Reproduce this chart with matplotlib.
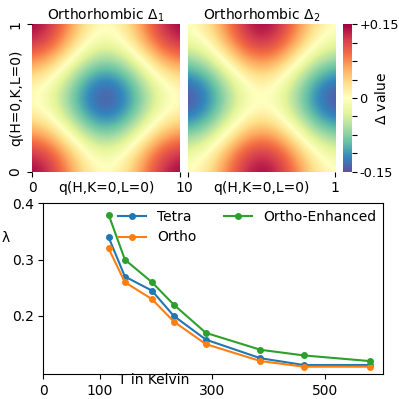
import numpy as np
import matplotlib
matplotlib.use("Agg")
from matplotlib import pyplot as plt

# heatmap samples on a 9x9 grid, q from 0 to 1 (rows = K, cols = H)
q_grid = [0, 0.125, 0.25, 0.375, 0.5, 0.625, 0.75, 0.875, 1]
delta1 = [
    [0.150, 0.128, 0.075, 0.022, 0.000, 0.022, 0.075, 0.128, 0.150],
    [0.128, 0.106, 0.053, 0.000, -0.022, 0.000, 0.053, 0.106, 0.128],
    [0.075, 0.053, 0.000, -0.053, -0.075, -0.053, 0.000, 0.053, 0.075],
    [0.022, 0.000, -0.053, -0.106, -0.128, -0.106, -0.053, 0.000, 0.022],
    [0.000, -0.022, -0.075, -0.128, -0.150, -0.128, -0.075, -0.022, 0.000],
    [0.022, 0.000, -0.053, -0.106, -0.128, -0.106, -0.053, 0.000, 0.022],
    [0.075, 0.053, 0.000, -0.053, -0.075, -0.053, 0.000, 0.053, 0.075],
    [0.128, 0.106, 0.053, 0.000, -0.022, 0.000, 0.053, 0.106, 0.128],
    [0.150, 0.128, 0.075, 0.022, 0.000, 0.022, 0.075, 0.128, 0.150],
]
delta2 = [
    [0.000, 0.022, 0.075, 0.128, 0.150, 0.128, 0.075, 0.022, 0.000],
    [-0.022, 0.000, 0.053, 0.106, 0.128, 0.106, 0.053, 0.000, -0.022],
    [-0.075, -0.053, 0.000, 0.053, 0.075, 0.053, 0.000, -0.053, -0.075],
    [-0.128, -0.106, -0.053, 0.000, 0.022, 0.000, -0.053, -0.106, -0.128],
    [-0.150, -0.128, -0.075, -0.022, 0.000, -0.022, -0.075, -0.128, -0.150],
    [-0.128, -0.106, -0.053, 0.000, 0.022, 0.000, -0.053, -0.106, -0.128],
    [-0.075, -0.053, 0.000, 0.053, 0.075, 0.053, 0.000, -0.053, -0.075],
    [-0.022, 0.000, 0.053, 0.106, 0.128, 0.106, 0.053, 0.000, -0.022],
    [0.000, 0.022, 0.075, 0.128, 0.150, 0.128, 0.075, 0.022, 0.000],
]

# lambda vs temperature
T = [116, 145, 193, 232, 289, 386, 463, 580]
lam_tetra = [0.34, 0.27, 0.245, 0.20, 0.158, 0.125, 0.113, 0.113]
lam_ortho = [0.32, 0.26, 0.23, 0.19, 0.15, 0.12, 0.11, 0.11]
lam_enh = [0.38, 0.30, 0.26, 0.22, 0.17, 0.14, 0.13, 0.12]

W = H = 399.0
def box(l, t, r, b):
    return [l / W, 1 - b / H, (r - l) / W, (b - t) / H]

fig = plt.figure(figsize=(3.99, 3.99), dpi=100)
ax1 = fig.add_axes(box(32.3, 24.3, 180, 171.7))
ax2 = fig.add_axes(box(187.5, 24.3, 335, 171.7))
cax = fig.add_axes(box(343.3, 24.3, 351.7, 171.7))
ax3 = fig.add_axes(box(43.3, 203.3, 382.7, 374.3))

half = (q_grid[1] - q_grid[0]) / 2
ext = [q_grid[0] - half, q_grid[-1] + half, q_grid[0] - half, q_grid[-1] + half]
for ax, dat, title in [(ax1, delta1, r'Orthorhombic $\Delta_1$'),
                       (ax2, delta2, r'Orthorhombic $\Delta_2$')]:
    im = ax.imshow(np.array(dat), origin='lower', extent=ext, cmap='Spectral_r',
                   vmin=-0.15, vmax=0.15, interpolation='bicubic', aspect='auto')
    ax.set_xlim(0, 1)
    ax.set_ylim(0, 1)
    for s in ax.spines.values():
        s.set_visible(False)
    ax.set_title(title, pad=3, fontsize=10)
    ax.set_xticks([0, 1])
    ax.set_xticklabels(['0', '1'])
    ax.set_xlabel('q(H,K=0,L=0)')
    ax.xaxis.set_label_coords(0.5, -0.066)

ax1.set_yticks([0, 1])
ax1.set_yticklabels(['0', '1'], rotation=90, va='center')
ax1.set_ylabel('q(H=0,K,L=0)', va='center', ha='center')
ax1.yaxis.set_label_coords(-0.11, 0.5)
ax2.set_yticks([])

cbar = fig.colorbar(im, cax=cax)
cbar.outline.set_visible(False)
cbar.set_ticks(np.linspace(-0.15, 0.15, 9))
cbar.set_ticklabels(['-0.15', '', '', '', '0', '', '', '', '+0.15'])
cax.tick_params(length=3.5, pad=2, labelsize=9.3)
cax.set_ylabel(r'$\Delta$ value', rotation=90, va='center', ha='center')
cax.yaxis.set_label_coords(4.49, 0.5)

ax3.plot(T, lam_tetra, 'o-', ms=4, label='Tetra')
ax3.plot(T, lam_ortho, 'o-', ms=4, label='Ortho')
ax3.plot(T, lam_enh, 'o-', ms=4, label='Ortho-Enhanced')
ax3.set_xlim(left=0)
ax3.set_ylim(top=0.4)
ax3.set_xticks([0, 100, 300, 500])
ax3.set_yticks([0.2, 0.3, 0.4])
ax3.set_xlabel('T in Kelvin', va='center')
ax3.xaxis.set_label_coords(0.326, -0.035)
ax3.set_ylabel('λ', rotation=0, va='center', ha='center')
ax3.yaxis.set_label_coords(-0.11, 0.8)
ax3.legend(ncol=2, frameon=False, loc='upper right', borderaxespad=0.05)

fig.savefig('out.png', dpi=100)
